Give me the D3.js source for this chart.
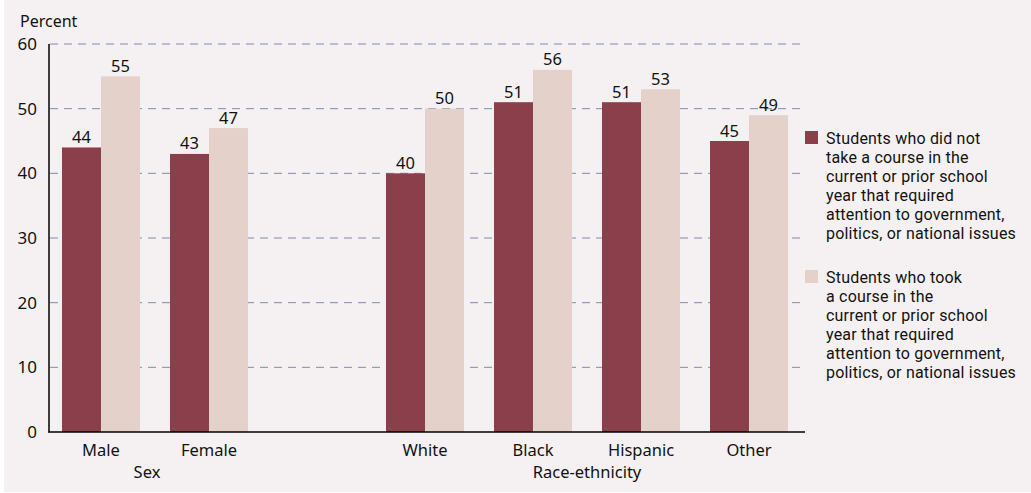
<!DOCTYPE html>
<html><head><meta charset="utf-8">
<script src="https://cdn.jsdelivr.net/npm/d3@7"></script>
<style>
html,body{margin:0;padding:0;background:#fff;}
svg{display:block;font-family:"Noto Sans",sans-serif;}
.leg{font-family:Roboto,sans-serif;}
</style></head>
<body><svg id="c" width="1031" height="493"></svg>
<script>
const categories = ["Male","Female","","White","Black","Hispanic","Other"];
const notTook = [44,43,null,40,51,51,45];
const took = [55,47,null,50,56,53,49];
const yTicks = [0,10,20,30,40,50,60];
const groupLabels = [{name:"Sex", from:"Male", to:"Female"},{name:"Race-ethnicity", from:"White", to:"Other"}];
const legendLabels = [
  ["Students who did not","take a course in the","current or prior school","year that required","attention to government,","politics, or national issues"],
  ["Students who took","a course in the","current or prior school","year that required","attention to government,","politics, or national issues"]
];
const colors = ["#8a3f4a","#e4d1ca"];

const svg = d3.select("#c");
svg.append("rect").attr("x",4).attr("y",0).attr("width",1027).attr("height",492).attr("fill","#f5f1f2");

const x = d3.scaleBand().domain(categories).range([47,803]).paddingInner(30/108).paddingOuter(15/108);
const y = d3.scaleLinear().domain([0,60]).range([432,44]);
const x1 = d3.scaleBand().domain([0,1]).range([0,x.bandwidth()]);

// gridlines
svg.append("g").selectAll("line").data(yTicks.filter(d=>d>0)).join("line")
  .attr("x1",50).attr("x2",805).attr("y1",d=>y(d)).attr("y2",d=>y(d))
  .attr("stroke","#7d8ca8").attr("stroke-width",1).attr("stroke-dasharray","8,6");

// y tick labels
svg.append("g").selectAll("text").data(yTicks).join("text")
  .attr("x",37).attr("y",d=>y(d)).attr("dy","0.35em").attr("text-anchor","end")
  .attr("font-size",17).attr("fill","#111").text(d=>d);
svg.append("text").attr("x",20).attr("y",27).attr("font-size",16).attr("fill","#111").text("Percent");

// bars
const series = [notTook, took];
series.forEach((vals,si)=>{
  const data = categories.map((c,i)=>({c, v:vals[i]})).filter(d=>d.v!=null);
  svg.append("g").selectAll("rect").data(data).join("rect")
    .attr("x",d=>x(d.c)+x1(si)).attr("width",x1.bandwidth())
    .attr("y",d=>y(d.v)).attr("height",d=>y(0)-y(d.v)).attr("fill",colors[si]);
  svg.append("g").selectAll("text").data(data).join("text")
    .attr("x",d=>x(d.c)+x1(si)+x1.bandwidth()/2).attr("y",d=>y(d.v)-4.5)
    .attr("text-anchor","middle").attr("font-size",16.5).attr("fill","#111").text(d=>d.v);
});

// axes lines
svg.append("line").attr("x1",49).attr("x2",49).attr("y1",44).attr("y2",432.5).attr("stroke","#000").attr("stroke-width",1.5);
svg.append("line").attr("x1",48.3).attr("x2",805).attr("y1",432).attr("y2",432).attr("stroke","#000").attr("stroke-width",1.5);

// category labels
svg.append("g").selectAll("text").data(categories.filter(c=>c)).join("text")
  .attr("x",d=>x(d)+x.bandwidth()/2).attr("y",456).attr("text-anchor","middle")
  .attr("font-size",16.5).attr("fill","#111").text(d=>d);
svg.append("g").selectAll("text").data(groupLabels).join("text")
  .attr("x",d=>(x(d.from)+x(d.to)+x.bandwidth())/2 - (d.name==="Sex"?8:0)).attr("y",478).attr("text-anchor","middle")
  .attr("font-size",16.5).attr("fill","#111").text(d=>d.name);

// legend
const legTop = [131,270];
legendLabels.forEach((lines,i)=>{
  const g = svg.append("g").attr("class","leg");
  g.append("rect").attr("x",805).attr("y",legTop[i]).attr("width",13).attr("height",13).attr("fill",colors[i]);
  g.selectAll("text").data(lines).join("text")
    .attr("x",826).attr("y",(d,j)=>legTop[i]+12.5+j*19).attr("font-size",16).attr("letter-spacing",0.2).attr("fill","#111").text(d=>d);
});
</script></body></html>
